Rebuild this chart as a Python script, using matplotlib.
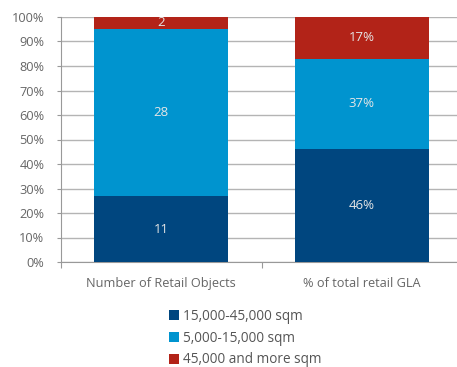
import numpy as np
import matplotlib.pyplot as plt

categories = ['Number of Retail Objects', '% of total retail GLA']
series_names = ['15,000-45,000 sqm', '5,000-15,000 sqm', '45,000 and more sqm']
colors = ['#00467f', '#0094cf', '#b22318']
# raw counts (left bar) and shares (right bar)
objects = [11, 28, 2]
gla_share = [46, 37, 17]
labels_objects = ['11', '28', '2']
labels_gla = ['46%', '37%', '17%']

plt.rcParams['font.family'] = ['Open Sans', 'DejaVu Sans']

obj_pct = np.array(objects) / sum(objects) * 100
gla_pct = np.array(gla_share, dtype=float)
values = np.vstack([obj_pct, gla_pct]).T  # rows: series, cols: categories
labels = [[labels_objects[i], labels_gla[i]] for i in range(3)]

fig = plt.figure(figsize=(4.57, 3.67), dpi=100)
ax = fig.add_axes([61/457, 1-262/367, 401/457, 245/367])

x = np.arange(len(categories))
bottom = np.zeros(len(categories))
handles = []
for i in range(3):
    b = ax.bar(x, values[i], 0.67, bottom=bottom, color=colors[i], zorder=3,
               label=series_names[i])
    handles.append(b)
    for j in range(len(categories)):
        ax.text(x[j], bottom[j] + values[i][j]/2, labels[i][j], ha='center', va='center',
                color='#e6e6e6', fontsize=9.5, zorder=4)
    bottom += values[i]

ax.set_xlim(-0.5, 1.5)
ax.set_ylim(0, 100)
ax.set_yticks(np.arange(0, 101, 10))
ax.set_yticklabels([f'{v}%' for v in range(0, 101, 10)])
ax.yaxis.grid(True, color='#b4b4b4', lw=1, zorder=0)
ax.set_xticks([-0.5, 0.5, 1.5])
ax.set_xticklabels([])
ax.set_xticks(x, minor=True)
ax.set_xticklabels(categories, minor=True)
ax.tick_params(axis='x', which='minor', length=0, pad=11, labelsize=9.2, labelcolor='#666666')
ax.tick_params(axis='x', which='major', length=4, color='#999999', direction='out')
ax.tick_params(axis='y', length=3, color='#999999', pad=9, labelsize=9.2, labelcolor='#666666')
for s in ['top', 'right']:
    ax.spines[s].set_visible(False)
ax.spines['left'].set_color('#999999')
ax.spines['bottom'].set_color('#999999')

fig.legend(handles=handles, loc='upper left', bbox_to_anchor=(162/457, 1-302/367),
           frameon=False, fontsize=9.8, handlelength=0.75, handleheight=0.75,
           handletextpad=0.3, labelspacing=0.5, labelcolor='#555555', borderpad=0)

fig.savefig('out.png', dpi=100)
